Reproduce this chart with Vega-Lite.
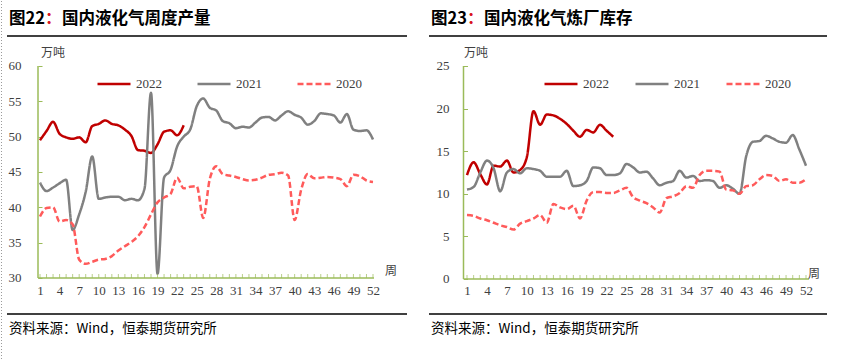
{
 "$schema": "https://vega.github.io/schema/vega-lite/v6.json",
 "background": "white",
 "padding": 0,
 "autosize": {"type": "pad"},
 "bounds": "flush",
 "spacing": 22,
 "resolve": {"scale": {"color": "independent", "strokeDash": "independent"}, "legend": {"color": "independent", "strokeDash": "independent"}},
 "config": {"view": {"stroke": null, "fill": "white"}, "font": "Liberation Serif"},
 "datasets": {
  "prod": [
   {"w":1,"2022":49.5,"2021":43.5,"2020":38.7},{"w":2,"2022":50.8,"2021":42.3,"2020":39.9},{"w":3,"2022":52.1,"2021":42.8,"2020":40.0},{"w":4,"2022":50.4,"2021":43.4,"2020":38.0},{"w":5,"2022":49.9,"2021":43.9,"2020":38.2},{"w":6,"2022":49.7,"2021":36.8,"2020":37.6},{"w":7,"2022":49.9,"2021":39.0,"2020":32.6},{"w":8,"2022":49.2,"2021":42.2,"2020":32.0},{"w":9,"2022":51.5,"2021":47.2,"2020":32.3},{"w":10,"2022":51.8,"2021":41.2,"2020":32.6},
   {"w":11,"2022":52.3,"2021":41.4,"2020":32.7},{"w":12,"2022":51.8,"2021":41.5,"2020":33.1},{"w":13,"2022":51.6,"2021":41.5,"2020":33.9},{"w":14,"2022":51.0,"2021":41.0,"2020":34.5},{"w":15,"2022":50.1,"2021":41.2,"2020":35.1},{"w":16,"2022":48.1,"2021":41.0,"2020":35.9},{"w":17,"2022":48.0,"2021":42.6,"2020":37.2},{"w":18,"2022":47.7,"2021":56.2,"2020":39.0},{"w":19,"2022":48.9,"2021":30.6,"2020":40.7},{"w":20,"2022":50.7,"2021":44.2,"2020":41.4},
   {"w":21,"2022":50.9,"2021":45.3,"2020":41.9},{"w":22,"2022":50.2,"2021":48.6,"2020":44.2},{"w":23,"2022":51.6,"2021":50.0,"2020":42.7},{"w":24,"2021":51.0,"2020":42.9},{"w":25,"2021":54.3,"2020":43.0},{"w":26,"2021":55.4,"2020":38.5},{"w":27,"2021":54.1,"2020":44.0},{"w":28,"2021":53.7,"2020":45.8},{"w":29,"2021":52.2,"2020":44.7},{"w":30,"2021":51.9,"2020":44.5},
   {"w":31,"2021":51.2,"2020":44.3},{"w":32,"2021":51.4,"2020":44.0},{"w":33,"2021":51.3,"2020":43.8},{"w":34,"2021":52.0,"2020":43.9},{"w":35,"2021":52.7,"2020":44.2},{"w":36,"2021":52.8,"2020":44.6},{"w":37,"2021":52.3,"2020":44.7},{"w":38,"2021":53.0,"2020":44.9},{"w":39,"2021":53.6,"2020":44.5},{"w":40,"2021":53.1,"2020":38.2},
   {"w":41,"2021":52.7,"2020":42.5},{"w":42,"2021":51.7,"2020":44.7},{"w":43,"2021":52.2,"2020":44.1},{"w":44,"2021":53.3,"2020":44.2},{"w":45,"2021":53.2,"2020":44.3},{"w":46,"2021":53.0,"2020":44.2},{"w":47,"2021":52.0,"2020":44.0},{"w":48,"2021":53.2,"2020":43.0},{"w":49,"2021":51.0,"2020":44.6},{"w":50,"2021":50.8,"2020":44.4},
   {"w":51,"2021":50.9,"2020":43.8},{"w":52,"2021":49.6,"2020":43.6}
  ],
  "stock": [
   {"w":1,"2022":12.2,"2021":10.5,"2020":7.5},{"w":2,"2022":13.7,"2021":10.8,"2020":7.4},{"w":3,"2022":12.3,"2021":12.5,"2020":7.1},{"w":4,"2022":11.1,"2021":13.9,"2020":6.9},{"w":5,"2022":13.3,"2021":13.0,"2020":6.6},{"w":6,"2022":13.2,"2021":10.3,"2020":6.3},{"w":7,"2022":13.9,"2021":12.5,"2020":6.1},{"w":8,"2022":12.5,"2021":12.9,"2020":5.8},{"w":9,"2022":12.8,"2021":12.4,"2020":6.5},{"w":10,"2022":14.3,"2021":13.0,"2020":6.8},
   {"w":11,"2022":19.7,"2021":12.9,"2020":7.1},{"w":12,"2022":18.1,"2021":12.7,"2020":7.5},{"w":13,"2022":19.3,"2021":12.0,"2020":6.6},{"w":14,"2022":19.2,"2021":12.0,"2020":8.8},{"w":15,"2022":18.8,"2021":12.0,"2020":8.4},{"w":16,"2022":18.2,"2021":12.7,"2020":8.2},{"w":17,"2022":17.4,"2021":10.9,"2020":8.6},{"w":18,"2022":16.7,"2021":11.0,"2020":7.1},{"w":19,"2022":17.5,"2021":11.5,"2020":9.2},{"w":20,"2022":17.2,"2021":13.1,"2020":10.2},
   {"w":21,"2022":18.1,"2021":13.0,"2020":10.2},{"w":22,"2022":17.4,"2021":12.2,"2020":10.1},{"w":23,"2022":16.7,"2021":12.2,"2020":10.1},{"w":24,"2021":12.4,"2020":10.4},{"w":25,"2021":13.5,"2020":10.7},{"w":26,"2021":13.1,"2020":9.6},{"w":27,"2021":12.5,"2020":9.2},{"w":28,"2021":12.6,"2020":8.9},{"w":29,"2021":11.8,"2020":8.4},{"w":30,"2021":11.0,"2020":7.8},
   {"w":31,"2021":11.3,"2020":9.5},{"w":32,"2021":11.5,"2020":9.7},{"w":33,"2021":12.7,"2020":10.1},{"w":34,"2021":11.9,"2020":10.9},{"w":35,"2021":12.1,"2020":10.7},{"w":36,"2021":11.5,"2020":12.2},{"w":37,"2021":11.6,"2020":12.7},{"w":38,"2021":11.5,"2020":12.7},{"w":39,"2021":10.7,"2020":12.6},{"w":40,"2021":11.0,"2020":10.5},
   {"w":41,"2021":10.6,"2020":10.4},{"w":42,"2021":10.0,"2020":10.0},{"w":43,"2021":14.4,"2020":10.9},{"w":44,"2021":16.1,"2020":11.0},{"w":45,"2021":16.2,"2020":11.7},{"w":46,"2021":16.8,"2020":12.2},{"w":47,"2021":16.5,"2020":12.1},{"w":48,"2021":16.1,"2020":11.5},{"w":49,"2021":16.0,"2020":11.7},{"w":50,"2021":16.9,"2020":11.3},
   {"w":51,"2021":15.2,"2020":11.3},{"w":52,"2021":13.3,"2020":11.7}
  ]
 },
 "hconcat": [
  {
   "width": 406, "height": 361,
   "resolve": {"axis": {"x": "independent", "y": "independent"}},
   "layer": [
    {"data": {"name": "prod"},
     "transform": [{"fold": ["2022", "2021", "2020"], "as": ["s", "v"]}],
     "mark": {"type": "line", "interpolate": "monotone", "strokeWidth": 2.5},
     "encoding": {
      "x": {"field": "w", "type": "quantitative", "scale": {"domain": [-4.973, 57.207], "nice": false, "zero": false},
       "axis": {"orient": "bottom", "offset": -84, "values": [1, 4, 7, 10, 13, 16, 19, 22, 25, 28, 31, 34, 37, 40, 43, 46, 49, 52],
        "domain": false, "grid": false, "tickColor": "#9BBB59", "tickSize": -4, "tickOpacity": 0,
        "labelPadding": 10, "labelFont": "Liberation Serif", "labelFontSize": 13, "labelColor": "#404040", "title": null, "labelOverlap": false, "labelFlush": false}},
      "y": {"field": "v", "type": "quantitative", "scale": {"domain": [18.113, 69.198], "nice": false, "zero": false},
       "axis": {"orient": "left", "offset": -37, "values": [30, 35, 40, 45, 50, 55, 60], "domain": false, "grid": false, "tickColor": "#9BBB59", "tickSize": -4,
        "labelPadding": 21, "labelFont": "Liberation Serif", "labelFontSize": 13, "labelColor": "#404040", "title": null, "labelOverlap": false}},
      "color": {"field": "s", "type": "nominal", "scale": {"domain": ["2022", "2021", "2020"], "range": ["#C00000", "#808080", "#FF5B5B"]},
       "legend": {"orient": "none", "legendX": 95, "legendY": 65, "direction": "horizontal", "title": null, "symbolType": "stroke", "symbolSize": 1089, "symbolStrokeWidth": 2.5,
        "labelFont": "Liberation Serif", "labelFontSize": 13, "labelColor": "#404040", "columnPadding": 30, "labelOffset": 4}},
      "strokeDash": {"field": "s", "type": "nominal", "scale": {"domain": ["2022", "2021", "2020"], "range": [[1, 0], [1, 0], [6, 3]]},
       "legend": {"orient": "none", "legendX": 95, "legendY": 65, "direction": "horizontal", "title": null, "symbolType": "stroke", "symbolSize": 1089, "symbolStrokeWidth": 2.5,
        "labelFont": "Liberation Serif", "labelFontSize": 13, "labelColor": "#404040", "columnPadding": 30, "labelOffset": 4}}
     }},
    {"data": {"name": "prod"}, "mark": {"type": "tick", "orient": "vertical", "size": 4, "thickness": 1, "color": "#9BBB59", "yOffset": -2},
     "encoding": {"x": {"field": "w", "type": "quantitative", "axis": null}, "y": {"datum": 30, "type": "quantitative", "axis": null}}},
    {"data": {"values": [{}]}, "mark": {"type": "rule", "color": "#9a9a9a", "strokeDash": [1, 2], "strokeWidth": 1},
     "encoding": {"x": {"datum": -4.897, "type": "quantitative", "axis": null}}},
    {"data": {"values": [{}]}, "mark": {"type": "rule", "color": "black", "strokeWidth": 1.5},
     "encoding": {"x": {"datum": -4.054, "type": "quantitative", "axis": null}, "x2": {"datum": 57.207}, "y": {"datum": 64.245, "type": "quantitative", "axis": null}}},
    {"data": {"values": [{}]}, "mark": {"type": "rule", "color": "black", "strokeWidth": 1.5},
     "encoding": {"x": {"datum": -4.054, "type": "quantitative", "axis": null}, "x2": {"datum": 57.207}, "y": {"datum": 24.906, "type": "quantitative", "axis": null}}},
    {"data": {"values": [{}]}, "mark": {"type": "rule", "color": "#9BBB59", "strokeWidth": 1.5},
     "encoding": {"x": {"datum": 0.694, "type": "quantitative", "axis": null}, "y": {"datum": 30, "type": "quantitative", "axis": null}, "y2": {"datum": 60}}},
    {"data": {"values": [{}]}, "mark": {"type": "rule", "color": "#9BBB59", "strokeWidth": 1.5},
     "encoding": {"x": {"datum": 0.694, "type": "quantitative", "axis": null}, "x2": {"datum": 52.15}, "y": {"datum": 30, "type": "quantitative", "axis": null}}},
    {"data": {"values": [{}]}, "mark": {"type": "text", "text": "图22", "font": "Noto Sans CJK SC", "fontWeight": "bold", "fontSize": 16.5, "align": "left", "baseline": "middle", "color": "black"},
     "encoding": {"x": {"datum": -3.748, "type": "quantitative", "axis": null}, "y": {"datum": 66.651, "type": "quantitative", "axis": null}}},
    {"data": {"values": [{}]}, "mark": {"type": "text", "text": "：", "font": "Noto Sans CJK SC", "fontWeight": "bold", "fontSize": 16.5, "align": "left", "baseline": "middle", "color": "#D9141E"},
     "encoding": {"x": {"datum": 1.766, "type": "quantitative", "axis": null}, "y": {"datum": 66.651, "type": "quantitative", "axis": null}}},
    {"data": {"values": [{}]}, "mark": {"type": "text", "text": "国内液化气周度产量", "font": "Noto Sans CJK SC", "fontWeight": "bold", "fontSize": 16.5, "align": "left", "baseline": "middle", "color": "black"},
     "encoding": {"x": {"datum": 4.370, "type": "quantitative", "axis": null}, "y": {"datum": 66.651, "type": "quantitative", "axis": null}}},
    {"data": {"values": [{}]}, "mark": {"type": "text", "text": "万吨", "font": "Noto Sans CJK SC", "fontSize": 12, "align": "left", "baseline": "middle", "color": "#404040"},
     "encoding": {"x": {"datum": 1.153, "type": "quantitative", "axis": null}, "y": {"datum": 61.88, "type": "quantitative", "axis": null}}},
    {"data": {"values": [{}]}, "mark": {"type": "text", "text": "周", "font": "Noto Sans CJK SC", "fontSize": 12, "align": "center", "baseline": "middle", "color": "#404040"},
     "encoding": {"x": {"datum": 54.76, "type": "quantitative", "axis": null}, "y": {"datum": 30.99, "type": "quantitative", "axis": null}}},
    {"data": {"values": [{}]}, "mark": {"type": "text", "text": "资料来源：Wind，恒泰期货研究所", "font": "Noto Sans CJK SC", "fontSize": 13.5, "align": "left", "baseline": "middle", "color": "black"},
     "encoding": {"x": {"datum": -3.748, "type": "quantitative", "axis": null}, "y": {"datum": 22.783, "type": "quantitative", "axis": null}}}
   ]
  },
  {
   "width": 415, "height": 361,
   "resolve": {"axis": {"x": "independent", "y": "independent"}},
   "layer": [
    {"data": {"name": "stock"},
     "transform": [{"fold": ["2022", "2021", "2020"], "as": ["s", "v"]}],
     "mark": {"type": "line", "interpolate": "monotone", "strokeWidth": 2.5},
     "encoding": {
      "x": {"field": "w", "type": "quantitative", "scale": {"domain": [-4.717, 57.717], "nice": false, "zero": false},
       "axis": {"orient": "bottom", "offset": -83, "values": [1, 4, 7, 10, 13, 16, 19, 22, 25, 28, 31, 34, 37, 40, 43, 46, 49, 52],
        "domain": false, "grid": false, "tickColor": "#9BBB59", "tickSize": -4, "tickOpacity": 0,
        "labelPadding": 9, "labelFont": "Liberation Serif", "labelFontSize": 13, "labelColor": "#404040", "title": null, "labelOverlap": false, "labelFlush": false}},
      "y": {"field": "v", "type": "quantitative", "scale": {"domain": [-9.742, 32.629], "nice": false, "zero": false},
       "axis": {"orient": "left", "offset": -34.5, "values": [0, 5, 10, 15, 20, 25], "domain": false, "grid": false, "tickColor": "#9BBB59", "tickSize": -4,
        "labelPadding": 18.5, "labelFont": "Liberation Serif", "labelFontSize": 13, "labelColor": "#404040", "title": null, "labelOverlap": false}},
      "color": {"field": "s", "type": "nominal", "scale": {"domain": ["2022", "2021", "2020"], "range": ["#C00000", "#808080", "#FF5B5B"]},
       "legend": {"orient": "none", "legendX": 114, "legendY": 65, "direction": "horizontal", "title": null, "symbolType": "stroke", "symbolSize": 1089, "symbolStrokeWidth": 2.5,
        "labelFont": "Liberation Serif", "labelFontSize": 13, "labelColor": "#404040", "columnPadding": 21, "labelOffset": 4}},
      "strokeDash": {"field": "s", "type": "nominal", "scale": {"domain": ["2022", "2021", "2020"], "range": [[1, 0], [1, 0], [6, 3]]},
       "legend": {"orient": "none", "legendX": 114, "legendY": 65, "direction": "horizontal", "title": null, "symbolType": "stroke", "symbolSize": 1089, "symbolStrokeWidth": 2.5,
        "labelFont": "Liberation Serif", "labelFontSize": 13, "labelColor": "#404040", "columnPadding": 21, "labelOffset": 4}}
     }},
    {"data": {"name": "stock"}, "mark": {"type": "tick", "orient": "vertical", "size": 4, "thickness": 1, "color": "#9BBB59", "yOffset": -2},
     "encoding": {"x": {"field": "w", "type": "quantitative", "axis": null}, "y": {"datum": 0, "type": "quantitative", "axis": null}}},
    {"data": {"values": [{}]}, "mark": {"type": "rule", "color": "black", "strokeWidth": 1.5},
     "encoding": {"x": {"datum": -4.717, "type": "quantitative", "axis": null}, "x2": {"datum": 55.16}, "y": {"datum": 28.521, "type": "quantitative", "axis": null}}},
    {"data": {"values": [{}]}, "mark": {"type": "rule", "color": "black", "strokeWidth": 1.5},
     "encoding": {"x": {"datum": -4.717, "type": "quantitative", "axis": null}, "x2": {"datum": 55.16}, "y": {"datum": -4.108, "type": "quantitative", "axis": null}}},
    {"data": {"values": [{}]}, "mark": {"type": "rule", "color": "#9BBB59", "strokeWidth": 1.5},
     "encoding": {"x": {"datum": 0.473, "type": "quantitative", "axis": null}, "y": {"datum": 0, "type": "quantitative", "axis": null}, "y2": {"datum": 25}}},
    {"data": {"values": [{}]}, "mark": {"type": "rule", "color": "#9BBB59", "strokeWidth": 1.5},
     "encoding": {"x": {"datum": 0.473, "type": "quantitative", "axis": null}, "x2": {"datum": 52.45}, "y": {"datum": 0, "type": "quantitative", "axis": null}}},
    {"data": {"values": [{}]}, "mark": {"type": "text", "text": "图23", "font": "Noto Sans CJK SC", "fontWeight": "bold", "fontSize": 16.5, "align": "left", "baseline": "middle", "color": "black"},
     "encoding": {"x": {"datum": -4.416, "type": "quantitative", "axis": null}, "y": {"datum": 30.516, "type": "quantitative", "axis": null}}},
    {"data": {"values": [{}]}, "mark": {"type": "text", "text": "：", "font": "Noto Sans CJK SC", "fontWeight": "bold", "fontSize": 16.5, "align": "left", "baseline": "middle", "color": "#D9141E"},
     "encoding": {"x": {"datum": 1.0, "type": "quantitative", "axis": null}, "y": {"datum": 30.516, "type": "quantitative", "axis": null}}},
    {"data": {"values": [{}]}, "mark": {"type": "text", "text": "国内液化气炼厂库存", "font": "Noto Sans CJK SC", "fontWeight": "bold", "fontSize": 16.5, "align": "left", "baseline": "middle", "color": "black"},
     "encoding": {"x": {"datum": 3.558, "type": "quantitative", "axis": null}, "y": {"datum": 30.516, "type": "quantitative", "axis": null}}},
    {"data": {"values": [{}]}, "mark": {"type": "text", "text": "万吨", "font": "Noto Sans CJK SC", "fontSize": 12, "align": "left", "baseline": "middle", "color": "#404040"},
     "encoding": {"x": {"datum": 0.549, "type": "quantitative", "axis": null}, "y": {"datum": 26.526, "type": "quantitative", "axis": null}}},
    {"data": {"values": [{}]}, "mark": {"type": "text", "text": "周", "font": "Noto Sans CJK SC", "fontSize": 12, "align": "center", "baseline": "middle", "color": "#404040"},
     "encoding": {"x": {"datum": 53.2, "type": "quantitative", "axis": null}, "y": {"datum": 0.587, "type": "quantitative", "axis": null}}},
    {"data": {"values": [{}]}, "mark": {"type": "text", "text": "资料来源：Wind，恒泰期货研究所", "font": "Noto Sans CJK SC", "fontSize": 13.5, "align": "left", "baseline": "middle", "color": "black"},
     "encoding": {"x": {"datum": -4.416, "type": "quantitative", "axis": null}, "y": {"datum": -5.869, "type": "quantitative", "axis": null}}}
   ]
  }
 ]
}
